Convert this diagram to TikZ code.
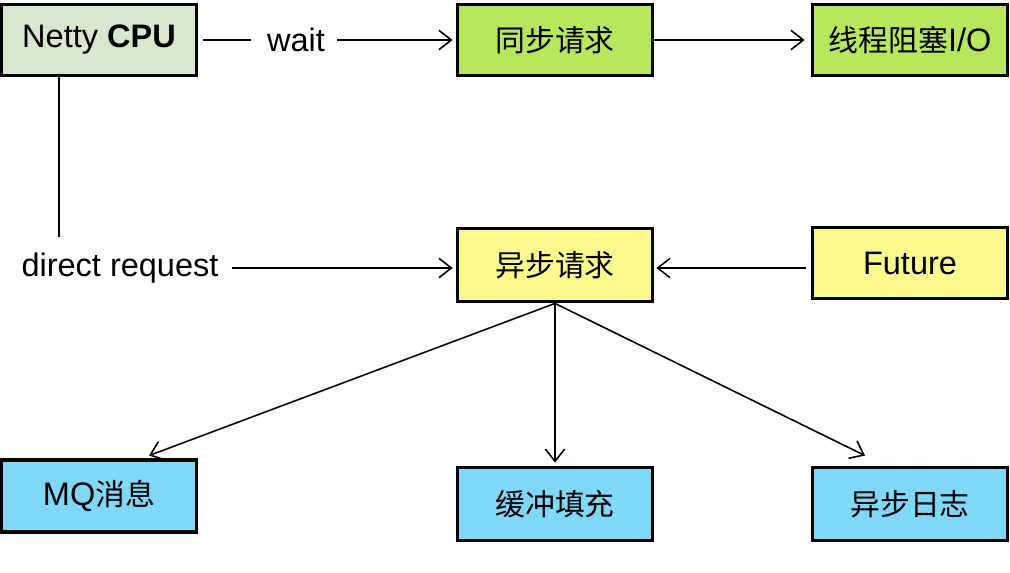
\documentclass[tikz,border=0pt]{standalone}
\usepackage{fontspec}
\setmainfont{Liberation Sans}
\newfontfamily\cjk{Noto Sans CJK SC}
\usetikzlibrary{arrows.meta}

\definecolor{nettygreen}{HTML}{D9E7CF}
\definecolor{limegreen}{HTML}{B8E65C}
\definecolor{paleyellow}{HTML}{FAFA8C}
\definecolor{skyblue}{HTML}{80D8F8}

\begin{document}
\begin{tikzpicture}[
    x=0.02cm, y=-0.02cm,
    box/.style={
        rectangle,
        draw,
        line width=2.2pt,
        minimum width=3.9cm,
        minimum height=1.42cm,
        font=\fontsize{18.5}{21}\selectfont
    },
    label/.style={
        font=\fontsize{18.5}{21}\selectfont,
        inner sep=2pt
    },
    edge/.style={
        -{Straight Barb[length=7pt,width=11pt]},
        line width=0.9pt
    },
    plain/.style={
        line width=0.9pt
    }
]

    \useasboundingbox (0,0) rectangle (1010,572);

    % top row
    \node[box, fill=nettygreen] (netty) at (99,40) {Netty \textbf{CPU}};
    \node[box, fill=limegreen] (sync) at (555,40) {{\cjk\fontsize{17}{20}\selectfont 同步请求}};
    \node[box, fill=limegreen] (block) at (910,40) {{\cjk\fontsize{17}{20}\selectfont 线程阻塞}I/O};

    % middle row
    \node[box, fill=paleyellow, minimum height=1.46cm] (async) at (555,265) {{\cjk\fontsize{17}{20}\selectfont 异步请求}};
    \node[box, fill=paleyellow] (future) at (910,263) {Future};

    % bottom row
    \node[box, fill=skyblue, minimum height=1.44cm] (mq) at (99,496) {MQ{\cjk\fontsize{17}{20}\selectfont 消息}};
    \node[box, fill=skyblue, minimum height=1.46cm] (buffer) at (555,504) {{\cjk\fontsize{17}{20}\selectfont 缓冲填充}};
    \node[box, fill=skyblue, minimum height=1.46cm] (log) at (910,504) {{\cjk\fontsize{17}{20}\selectfont 异步日志}};

    % labels
    \node[label] (wait) at (296,40) {wait};
    \node[label] (direct) at (120,268) {direct request};
    \coordinate (down) at (59,237);

    \draw[plain] ([xshift=0.1cm]netty.east) -- ([xshift=-0.24cm]wait.west);
    \draw[edge] ([xshift=0.16cm]wait.east) -- ([xshift=-0.06cm]sync.west);
    \draw[edge] (sync) -- ([xshift=-0.12cm]block.west);
    \draw[plain] (netty.south -| down) -- (down);
    \draw[edge] ([xshift=0.2cm]direct.east) -- ([xshift=-0.06cm]direct.east -| async.west);
    \draw[edge] ([xshift=-0.1cm]future.west |- direct) -- ([xshift=0.04cm]async.east |- direct);

    \draw[edge] (async.south) -- ([xshift=1cm,yshift=0.05cm]mq.north);
    \draw[edge] (async.south) -- ([yshift=0.06cm]buffer.north);
    \draw[edge] (async.south) -- ([xshift=-0.9cm,yshift=0.2cm]log.north);

\end{tikzpicture}
\end{document}
